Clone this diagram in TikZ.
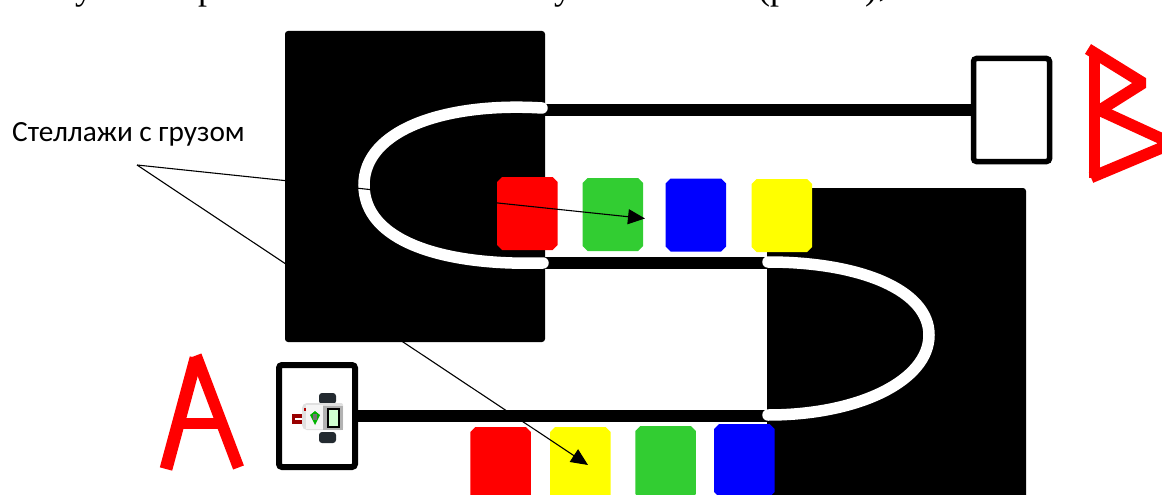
\documentclass[tikz,border=0pt]{standalone}
\usepackage{fontspec}
\setmainfont{Liberation Serif}
\newfontfamily\labelfont{Carlito}
\usetikzlibrary{arrows.meta}
\definecolor{shelfgreen}{RGB}{50,205,50}
\definecolor{purered}{RGB}{255,0,0}
\definecolor{pureblue}{RGB}{0,0,255}
\definecolor{pureyellow}{RGB}{255,255,0}
\definecolor{wheel}{RGB}{35,42,48}
\tikzset{
  x=1pt,y=-1pt,
  shelf/.style={fill=black,draw=none,rounded corners=3pt},
  track/.style={draw=black,line width=12pt},
  turn/.style={draw=white,line width=11.5pt,line cap=round},
  pallet/.style={draw=none,inner sep=0pt,minimum width=60.5pt,minimum height=73pt},
  endbox/.style={draw=black,fill=white,line width=5.5pt,rounded corners=3pt,inner sep=0pt},
  letter/.style={draw=purered,line width=11.5pt,line join=bevel},
  pointer/.style={draw=black,line width=1.1pt},
  pointertip/.style={pointer,-{Triangle[length=17pt,width=15pt]}},
  cutoff/.style={font=\fontsize{36}{36}\selectfont,inner sep=0pt,anchor=base},
}
% a cut-cornered pallet: name, x centre, y centre, colour
\newcommand{\palletbox}[4]{%
  \node[pallet] (#1) at (#2,#3) {};
  \fill[#4] (#2,#3) ++(-25.25,-36.5) -- ++(50.5,0) -- ++(5,5) -- ++(0,63) -- ++(-5,5) -- ++(-50.5,0) -- ++(-5,-5) -- ++(0,-63) -- cycle;
}
\begin{document}
\begin{tikzpicture}
\useasboundingbox (0,0) rectangle (1162,495);
\begin{scope}
\clip (0,0) rectangle (1162,495);
% cropped line of text at the top
\node[cutoff] (t1) at (84,0) {у};
\node[cutoff] (t2) at (207,0) {р};
\node[cutoff] (t3) at (563,0) {у};
\node[cutoff] (t4) at (773,0) {(р};
\node[cutoff] (t5) at (871,0) {)};
\node[cutoff] (t6) at (883,-3) {,};
% shelves
\node[shelf,minimum width=260pt,minimum height=311pt,inner sep=0pt] (shelfL) at (415,186.5) {};
\node[shelf,minimum width=259pt,minimum height=340pt,inner sep=0pt] (shelfR) at (896.5,358) {};
% end boxes
\node[endbox,minimum width=76pt,minimum height=103pt] (boxB) at (1011.5,110) {};
\node[endbox,line width=6pt,minimum width=76pt,minimum height=102pt] (boxA) at (317,416) {};
% tracks
\coordinate (topL) at (545,110);
\coordinate (midL) at (545,263);
\coordinate (midR) at (767,263);
\coordinate (lowR) at (767,416);
\draw[track] (topL) -- (boxB.west);
\draw[track] (midL) -- (midR);
\draw[track] (boxA.east) -- (lowR);
% white curves
\coordinate (curveLa) at (542,108);
\coordinate (curveLb) at (364,185);
\coordinate (curveLc) at (543,263);
\coordinate (curveRa) at (768,262);
\coordinate (curveRb) at (929,335);
\coordinate (curveRc) at (768,415);
\draw[turn] (curveLa) .. controls (445,102) and (364,130) .. (curveLb) .. controls (364,240) and (440,266) .. (curveLc);
\draw[turn] (curveRa) .. controls (860,262) and (929,290) .. (curveRb) .. controls (929,380) and (860,415) .. (curveRc);
% pallets, upper row
\palletbox{u1}{527.25}{213.5}{purered}
\palletbox{u2}{612.75}{214.5}{shelfgreen}
\palletbox{u3}{695.75}{215}{pureblue}
\palletbox{u4}{781.75}{215.5}{pureyellow}
% pallets, lower row
\palletbox{d1}{500.5}{463.5}{purered}
\palletbox{d2}{580.25}{463.5}{pureyellow}
\palletbox{d3}{665.5}{462.5}{shelfgreen}
\palletbox{d4}{744.25}{460.5}{pureblue}
% robot
\fill[wheel,rounded corners=3pt] (319,393) rectangle (336,404);
\fill[wheel,rounded corners=3pt] (319,432) rectangle (336,443);
\fill[black!12,rounded corners=2pt] (302,406) -- (305,403) -- (343,403) -- (343,430) -- (305,430) -- (302,427) -- cycle;
\fill[red!60!black] (292,414) rectangle (302,424);
\fill[white] (295,418) rectangle (302,420);
\fill[white!92!gray] (306,405) rectangle (323,429);
\fill[black!30] (323,406) rectangle (343,430);
\fill[black] (327,408) rectangle (340,428);
\fill[green!18!white] (329,410) rectangle (338,426);
\fill[green!70!black] (315,411) -- (320,415) -- (315,425) -- (310,415) -- cycle;
\fill[black!55] (313,414) rectangle (317,420);
\fill[red!70!black] (304,408) rectangle (306,411);
% letters
\draw[letter] (196,355.5) -- (238.5,467.5);
\draw[letter,line width=12.8pt] (196,358) -- (166,469);
\draw[letter] (182,423.5) -- (219,423.5);
\draw[letter] (1094.5,50) -- (1094.5,178);
\draw[letter] (1088,49) -- (1143,83) -- (1097,112);
\draw[letter] (1098,109.5) -- (1172,143.5) -- (1091,177.5);
% label and pointers
\node[font=\labelfont\fontsize{29.3}{29.3}\selectfont,anchor=base west,inner sep=0pt] (label) at (12,141) {Стеллажи с грузом};
\coordinate (hub) at (137,165);
\coordinate (tipU) at (645,218.5);
\coordinate (tipD) at (588,465);
\draw[pointertip] (hub) -- (tipU);
\draw[pointertip] (hub) -- (tipD);
\end{scope}
\end{tikzpicture}
\end{document}
